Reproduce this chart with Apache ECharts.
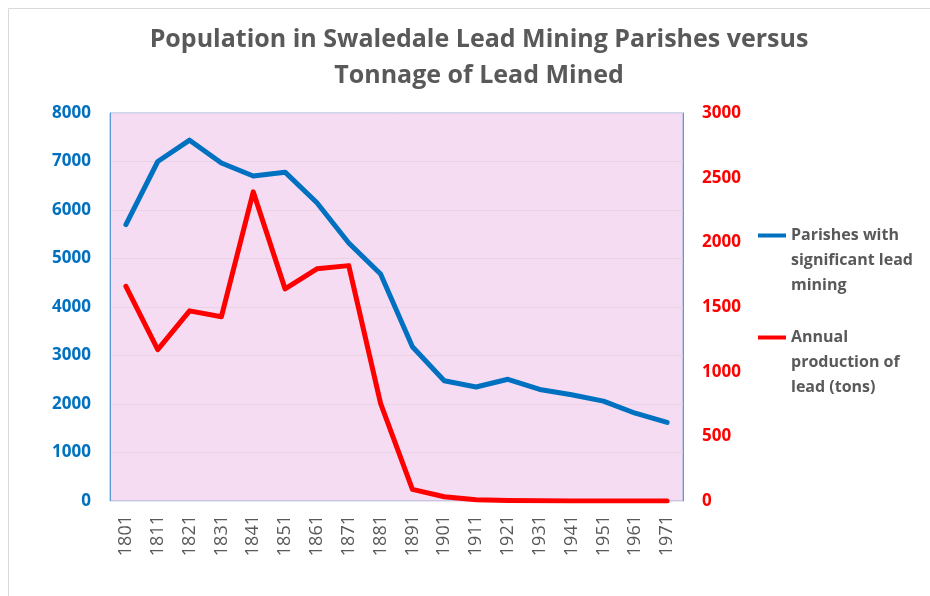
<!DOCTYPE html>
<html>
<head>
<meta charset="utf-8">
<script src="https://cdn.jsdelivr.net/npm/echarts@6/dist/echarts.min.js"></script>
<style>
  html, body { margin: 0; padding: 0; background: #fff; }
  #main { width: 930px; height: 596px; }
</style>
</head>
<body>
<div id="main"></div>
<script>
var years = ['1801', '1811', '1821', '1831', '1841', '1851', '1861', '1871', '1881',
    '1891', '1901', '1911', '1921', '1931', '1941', '1951', '1961', '1971'];
// population of the parishes
var population = [5700, 7000, 7440, 6970, 6700, 6780, 6150, 5320, 4680,
    3180, 2480, 2350, 2510, 2300, 2190, 2060, 1810, 1620];
// lead mined, tons per year
var leadTons = [1660, 1170, 1470, 1425, 2390, 1640, 1795, 1820, 755,
    90, 33, 10, 3, 1, 0, 0, 0, 0];
var leftTicks = [0, 8000, 1000];
var rightTicks = [0, 3000, 500];

var nameBlue = 'Parishes with significant lead mining';
var nameRed = 'Annual production of lead (tons)';
// two empty lines on top so the icon sits level with the first text line
var legendText = {};
legendText[nameBlue] = '\n\nParishes with\nsignificant lead\nmining';
legendText[nameRed] = '\n\nAnnual\nproduction of\nlead (tons)';

var font = '"Open Sans", sans-serif';
var grey = '#595959';

function makeLegend(name, top) {
    return {
        data: [name],
        orient: 'vertical',
        left: 758,
        top: top,
        padding: 0,
        icon: 'rect',
        itemWidth: 28,
        itemHeight: 4,
        formatter: function (n) { return legendText[n]; },
        textStyle: {
            fontFamily: font,
            fontSize: 16,
            fontWeight: 'bold',
            color: grey,
            lineHeight: 25
        }
    };
}

function plain(v) { return String(v); }

var myChart = echarts.init(document.getElementById('main'));
var option = {
    animation: false,
    title: {
        text: 'Population in Swaledale Lead Mining Parishes versus\nTonnage of Lead Mined',
        left: 474,
        top: 17,
        textAlign: 'center',
        textStyle: {
            fontFamily: font,
            fontSize: 25,
            fontWeight: 'bold',
            color: grey,
            lineHeight: 36
        }
    },
    graphic: [{
        type: 'rect',
        shape: { x: 8.5, y: 8.5, width: 1000, height: 1000 },
        style: { fill: 'none', stroke: '#D9D9D9', lineWidth: 1 },
        silent: true
    }],
    legend: [makeLegend(nameBlue, 173), makeLegend(nameRed, 275)],
    grid: {
        left: 110,
        right: 247,
        top: 113,
        bottom: 95,
        show: true,
        backgroundColor: '#F5DCF2',
        borderColor: '#8DB4E2',
        borderWidth: 1
    },
    xAxis: {
        type: 'category',
        data: years,
        boundaryGap: true,
        axisLine: { show: true, lineStyle: { color: '#EFE4EE', width: 1 } },
        axisTick: { show: false },
        axisLabel: {
            rotate: 90,
            margin: 14,
            fontFamily: font,
            fontSize: 18,
            color: grey
        }
    },
    yAxis: [{
        type: 'value',
        min: leftTicks[0],
        max: leftTicks[1],
        interval: leftTicks[2],
        axisLine: { show: true, lineStyle: { color: '#5B9BD5', width: 1 } },
        axisTick: { show: false },
        splitLine: { show: true, lineStyle: { color: '#E8D2E4', width: 1 } },
        axisLabel: {
            margin: 19,
            formatter: plain,
            fontFamily: font,
            fontSize: 17,
            fontWeight: 'bold',
            color: '#0070C0'
        }
    }, {
        type: 'value',
        position: 'right',
        min: rightTicks[0],
        max: rightTicks[1],
        interval: rightTicks[2],
        axisLine: { show: true, lineStyle: { color: '#5B9BD5', width: 1 } },
        axisTick: { show: false },
        splitLine: { show: false },
        axisLabel: {
            margin: 19,
            formatter: plain,
            fontFamily: font,
            fontSize: 17,
            fontWeight: 'bold',
            color: '#FF0000'
        }
    }],
    series: [{
        name: nameBlue,
        type: 'line',
        yAxisIndex: 0,
        data: population,
        showSymbol: false,
        symbol: 'none',
        color: '#0070C0',
        lineStyle: { width: 5, color: '#0070C0', cap: 'round', join: 'round' }
    }, {
        name: nameRed,
        type: 'line',
        yAxisIndex: 1,
        data: leadTons,
        showSymbol: false,
        symbol: 'none',
        color: '#FF0000',
        lineStyle: { width: 5, color: '#FF0000', cap: 'round', join: 'round' }
    }]
};
myChart.setOption(option);
window.addEventListener('resize', function () {
    myChart.resize();
});
</script>
</body>
</html>
